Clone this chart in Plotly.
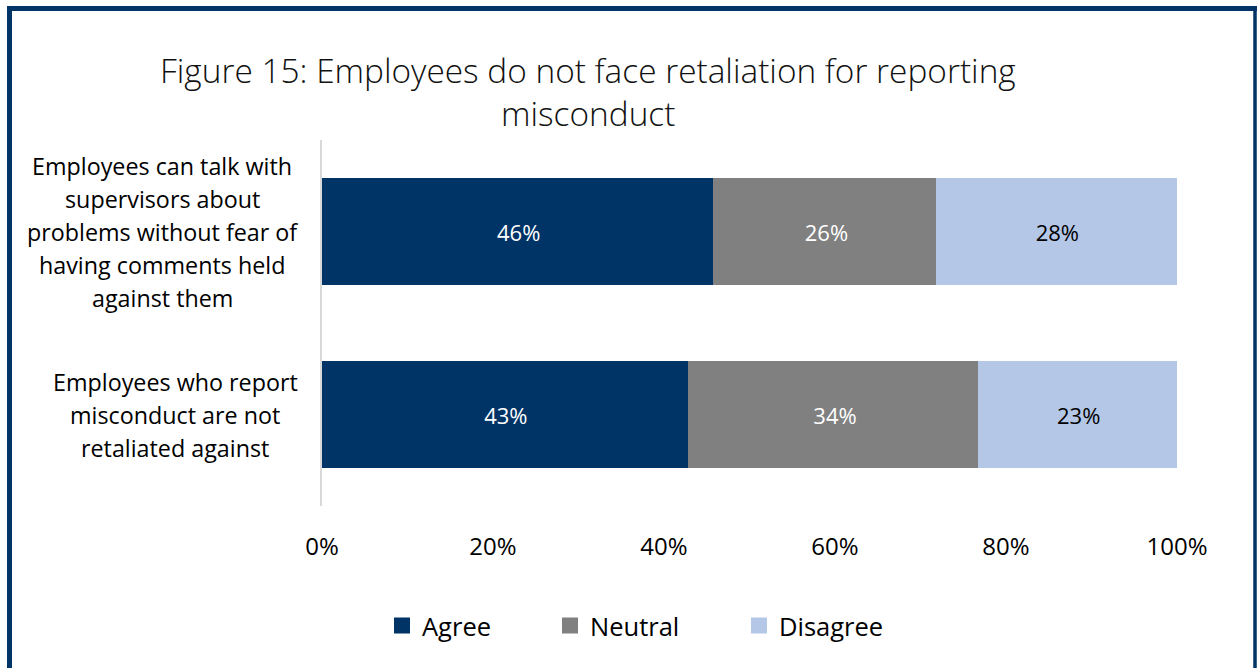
import plotly.graph_objects as go

# Survey statements (y categories) and response shares (%)
statement_lines = [
    ["Employees can talk with", "supervisors about", "problems without fear of",
     "having comments held", "against them"],
    ["Employees who report", "misconduct are not", "retaliated against"],
]
statements = [" ".join(lines) for lines in statement_lines]
agree = [46, 43]
neutral = [26, 34]
disagree = [28, 23]
tick_vals = [0, 20, 40, 60, 80, 100]
tick_text = ["0%", "20%", "40%", "60%", "80%", "100%"]
title_lines = ["Figure 15: Employees do not face retaliation for reporting", "misconduct"]

NAVY = "#003366"
FONT = "Open Sans"

W, H = 1257, 668
ML, MR, MT, MB = 322, 80, 140, 162
PW, PH = W - ML - MR, H - MT - MB
OUTLINE = 4  # same-colour outline, also enlarges the legend swatch


def px_x(px):
    return (px - ML) / PW


def px_y(py):
    return (H - MB - py) / PH


fig = go.Figure()
series = [
    ("Agree", agree, NAVY, "white", "legend", 382),
    ("Neutral", neutral, "#808080", "white", "legend2", 550),
    ("Disagree", disagree, "#B4C7E7", "black", "legend3", 739),
]
legend_layout = {}
for name, vals, color, tcolor, leg, lx in series:
    fig.add_trace(go.Bar(
        name=name,
        y=statements,
        x=vals,
        orientation="h",
        marker=dict(color=color, line=dict(width=OUTLINE, color=color)),
        text=[f"{v}%" for v in vals],
        textposition="inside",
        insidetextanchor="middle",
        textangle=0,
        textfont=dict(family=FONT, size=22, color=tcolor),
        width=0.57 - OUTLINE / PH,
        cliponaxis=False,
        legend=leg,
    ))
    legend_layout[leg] = dict(
        orientation="h", x=px_x(lx), xanchor="left",
        y=px_y(626), yanchor="middle",
        font=dict(family=FONT, size=25.5, color="black"),
        bgcolor="rgba(0,0,0,0)",
    )

# Category labels: each block is centred on its own axis, line by line
LINE_H = 33
block_centres = [162, 175]
for s, lines, cx in zip(statements, statement_lines, block_centres):
    n = len(lines)
    for i, line in enumerate(lines):
        fig.add_annotation(
            x=px_x(cx), xref="paper", y=s, yref="y",
            yshift=((n - 1) / 2 - i) * LINE_H,
            text=line, showarrow=False, xanchor="center", yanchor="middle",
            font=dict(family=FONT, size=23.3, color="black"),
        )

# Title
for i, line in enumerate(title_lines):
    fig.add_annotation(
        x=px_x(588), xref="paper", y=px_y(70 + 43 * i), yref="paper",
        text=line, showarrow=False, xanchor="center", yanchor="middle",
        font=dict(family=FONT, size=33.4, color="#111111", weight=300),
    )

# Frame around the chart
fig.add_shape(type="line", xref="paper", yref="paper",
              x0=px_x(9.5), x1=px_x(9.5), y0=px_y(700), y1=px_y(6),
              line=dict(color=NAVY, width=5))
fig.add_shape(type="line", xref="paper", yref="paper",
              x0=px_x(7), x1=px_x(1257), y0=px_y(8.5), y1=px_y(8.5),
              line=dict(color=NAVY, width=5))
fig.add_shape(type="line", xref="paper", yref="paper",
              x0=px_x(1255), x1=px_x(1255), y0=px_y(700), y1=px_y(6),
              line=dict(color=NAVY, width=3.5))

fig.update_layout(
    width=W, height=H,
    margin=dict(l=ML, r=MR, t=MT, b=MB, autoexpand=False),
    barmode="stack",
    paper_bgcolor="white",
    plot_bgcolor="white",
    font=dict(family=FONT, color="black"),
    showlegend=True,
    xaxis=dict(
        range=[0, 100], tickvals=tick_vals, ticktext=tick_text,
        showgrid=False, zeroline=False, showline=False, ticks="",
        tickfont=dict(family=FONT, size=24, color="black"),
        ticklabelstandoff=24, fixedrange=True,
    ),
    yaxis=dict(
        showticklabels=False, showgrid=False,
        zeroline=False, showline=True, linecolor="#D9D9D9", linewidth=2,
        ticks="", range=[1.5, -0.5],
    ),
    **legend_layout,
)

fig.write_html("out.html")
